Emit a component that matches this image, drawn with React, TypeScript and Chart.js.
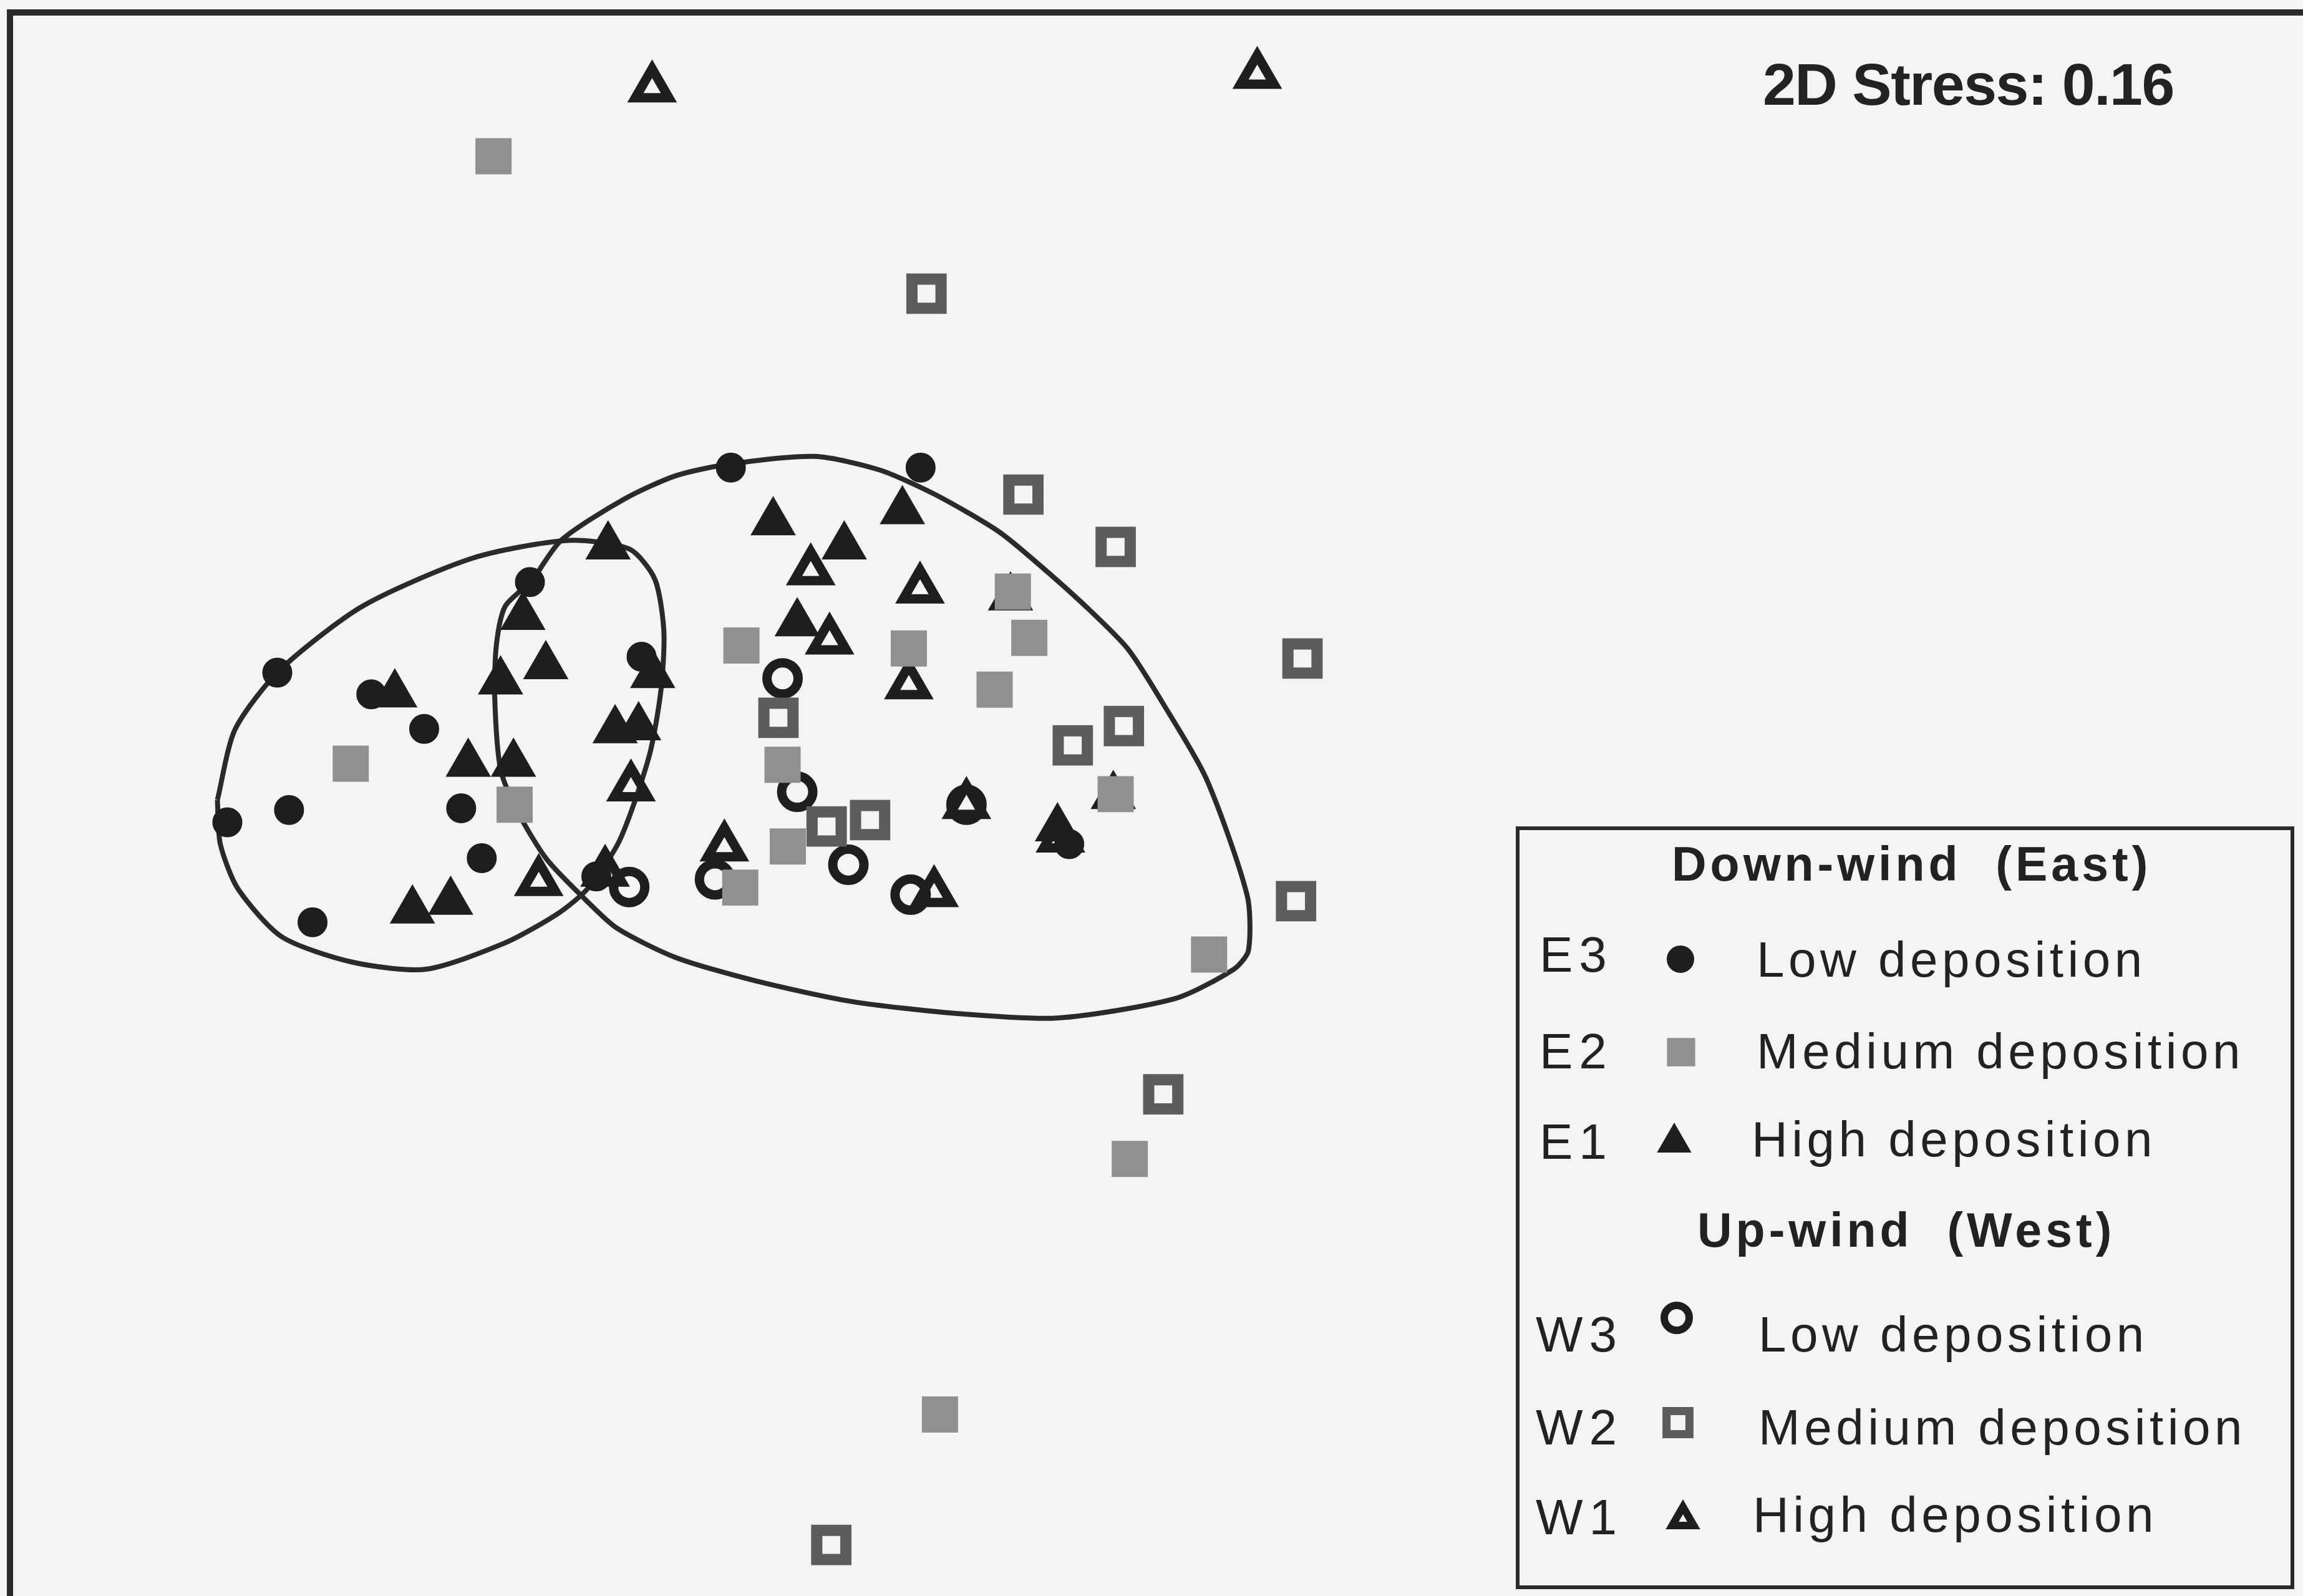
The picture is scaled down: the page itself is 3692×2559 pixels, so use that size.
import React, { useEffect, useRef } from 'react';
import { Chart, registerables } from 'chart.js';

Chart.register(...registerables);

const W = 3692;
const H = 2559;
const X_MIN = -1.75;
const X_MAX = 2.17;
const Y_MIN = -1.217;
const Y_MAX = 1.5;

// NMDS coordinates
const e3Low = [
  [-0.506, 0.704], [-0.183, 0.704], [-1.278, 0.355], [-1.118, 0.318], [-1.028, 0.259],
  [-1.363, 0.1], [-1.258, 0.121], [-1.218, -0.07], [-0.965, 0.124], [-0.93, 0.039],
  [-0.848, 0.509], [-0.658, 0.382], [-0.735, 0.008], [0.07, 0.063],
];
const e2Medium = [
  [-0.91, 1.234], [-1.153, 0.2], [-0.874, 0.13], [-0.488, 0.401], [-0.203, 0.396],
  [-0.026, 0.493], [0.002, 0.414], [-0.057, 0.326], [-0.418, 0.198], [-0.409, 0.059],
  [-0.49, -0.011], [0.149, 0.148], [0.308, -0.125], [0.173, -0.473], [-0.15, -0.908],
];
const e1High = [
  [-0.434, 0.611], [-0.214, 0.63], [-0.313, 0.57], [-0.715, 0.57], [-0.86, 0.45],
  [-0.821, 0.366], [-0.898, 0.34], [-0.393, 0.439], [-1.078, 0.318], [-0.953, 0.2],
  [-0.876, 0.2], [-0.703, 0.257], [-0.663, 0.262], [-0.639, 0.351], [-1.048, -0.05],
  [-0.983, -0.035], [0.05, 0.09], [-0.03, 0.483], [0.145, 0.145],
];
const w3Low = [
  [-0.418, 0.345], [-0.393, 0.152], [-0.306, 0.028], [-0.533, 0.003], [-0.679, -0.01],
  [-0.2, -0.023], [-0.105, 0.13],
];
const w2Medium = [
  [-0.173, 1.0], [-0.008, 0.658], [0.149, 0.569], [0.467, 0.379], [0.163, 0.264],
  [0.076, 0.231], [-0.425, 0.278], [-0.343, 0.093], [-0.269, 0.104], [0.456, -0.034],
  [0.23, -0.363], [-0.335, -1.13],
];
const w1High = [
  [-0.64, 1.35], [0.39, 1.373], [-0.37, 0.528], [-0.184, 0.497], [-0.338, 0.41],
  [-0.203, 0.334], [-0.676, 0.16], [-0.833, -0.001], [-0.72, 0.015], [-0.517, 0.058],
  [-0.105, 0.13], [-0.16, -0.02], [0.055, 0.073],
];

// Group outlines
const hullEast = [
  [-1.38, 0.138], [-1.35, 0.258], [-1.275, 0.358], [-1.133, 0.468], [-0.945, 0.55],
  [-0.783, 0.58], [-0.678, 0.565], [-0.635, 0.513], [-0.62, 0.425], [-0.625, 0.325],
  [-0.645, 0.213], [-0.695, 0.07], [-0.75, -0.013], [-0.8, -0.055], [-0.89, -0.105],
  [-1.025, -0.15], [-1.15, -0.138], [-1.27, -0.095], [-1.345, -0.013], [-1.375, 0.063],
  [-1.38, 0.138],
];
const hullWest = [
  [-0.845, 0.51], [-0.795, 0.58], [-0.688, 0.65], [-0.6, 0.69], [-0.508, 0.71],
  [-0.363, 0.723], [-0.253, 0.7], [-0.158, 0.658], [-0.05, 0.595], [0.023, 0.535],
  [0.103, 0.463], [0.17, 0.395], [0.228, 0.305], [0.303, 0.175], [0.373, -0.025],
  [0.375, -0.118], [0.35, -0.15], [0.25, -0.2], [0.05, -0.233], [-0.125, -0.225],
  [-0.3, -0.205], [-0.463, -0.17], [-0.6, -0.13], [-0.7, -0.08], [-0.755, -0.03],
  [-0.82, 0.038], [-0.87, 0.12], [-0.898, 0.19], [-0.908, 0.315], [-0.905, 0.403],
  [-0.89, 0.468], [-0.845, 0.51],
];

const stressLabel = '2D Stress: 0.16';
const legendHeaders = ['Down-wind  (East)', 'Up-wind  (West)'];
const legendCodes = ['E3', 'E2', 'E1', 'W3', 'W2', 'W1'];
const legendDescriptions = [
  'Low deposition', 'Medium deposition', 'High deposition',
  'Low deposition', 'Medium deposition', 'High deposition',
];

const INK = '#1e1e1e';
const GRAY_FILL = '#909090';
const GRAY_LINE = '#5c5c5c';
const BG = '#f4f4f4';
const CLEAR = 'rgba(0,0,0,0)';

const toXY = (arr: number[][]) => arr.map(([x, y]) => ({ x, y }));

type MarkerStyle = { shape: string; r: number; fill: string; stroke: string; lw: number };
const legendMarkers: MarkerStyle[] = [
  { shape: 'circle', r: 21, fill: INK, stroke: INK, lw: 2 },
  { shape: 'rect', r: 32, fill: GRAY_FILL, stroke: GRAY_FILL, lw: 0 },
  { shape: 'triangle', r: 30, fill: INK, stroke: INK, lw: 2 },
  { shape: 'circle', r: 20, fill: CLEAR, stroke: INK, lw: 12 },
  { shape: 'rect', r: 26, fill: CLEAR, stroke: GRAY_LINE, lw: 13 },
  { shape: 'triangle', r: 20, fill: CLEAR, stroke: INK, lw: 12 },
];

function shapePath(ctx: CanvasRenderingContext2D, shape: string, x: number, y: number, r: number) {
  ctx.beginPath();
  if (shape === 'circle') {
    ctx.arc(x, y, r, 0, Math.PI * 2);
  } else if (shape === 'rect') {
    const s = r * Math.SQRT1_2;
    ctx.rect(x - s, y - s, 2 * s, 2 * s);
  } else {
    for (let k = 0; k < 3; k++) {
      const a = (k * 2 * Math.PI) / 3;
      const px = x + Math.sin(a) * r;
      const py = y - Math.cos(a) * r;
      if (k === 0) ctx.moveTo(px, py);
      else ctx.lineTo(px, py);
    }
    ctx.closePath();
  }
}

const decorPlugin = {
  id: 'decor',
  beforeDraw(chart: any) {
    const ctx: CanvasRenderingContext2D = chart.ctx;
    ctx.save();
    ctx.fillStyle = BG;
    ctx.fillRect(0, 0, chart.width, chart.height);
    ctx.restore();
  },
  afterDraw(chart: any) {
    const ctx: any = chart.ctx;
    ctx.save();
    // outer frame (right/bottom sides fall outside the picture)
    ctx.strokeStyle = '#2a2a2a';
    ctx.lineWidth = 10;
    ctx.strokeRect(16, 20, W + 40, H + 40);

    // stress label
    ctx.fillStyle = '#222';
    ctx.textBaseline = 'alphabetic';
    ctx.textAlign = 'left';
    ctx.font = 'bold 95px "Liberation Sans", Arial, sans-serif';
    ctx.letterSpacing = '-1.5px';
    ctx.fillText(stressLabel, 2826, 168);

    // legend box
    ctx.fillStyle = BG;
    ctx.fillRect(2433, 1328, 3675 - 2433, 2545 - 1328);
    ctx.strokeStyle = '#2a2a2a';
    ctx.lineWidth = 6;
    ctx.strokeRect(2433, 1328, 3675 - 2433, 2545 - 1328);

    ctx.fillStyle = '#222';
    ctx.letterSpacing = '6px';
    ctx.font = 'bold 77px "Liberation Sans", Arial, sans-serif';
    ctx.fillText(legendHeaders[0], 2680, 1412);
    ctx.fillText(legendHeaders[1], 2721, 1999);

    const codeBase = [1558, 1713, 1858, 2167, 2316, 2460];
    const descBase = [1566, 1713, 1854, 2167, 2316, 2456];
    const codeX = [2468, 2468, 2468, 2462, 2462, 2462];
    const descX = [2816, 2816, 2808, 2819, 2819, 2810];
    const markerPos = [
      [2694, 1538], [2695, 1687], [2684, 1832], [2688, 2113], [2690, 2281], [2698, 2436],
    ];
    ctx.font = '80px "Liberation Sans", Arial, sans-serif';
    ctx.letterSpacing = '10px';
    legendCodes.forEach((c, i) => {
      ctx.fillStyle = '#222';
      ctx.fillText(c, codeX[i], codeBase[i]);
    });
    ctx.letterSpacing = '6.5px';
    legendDescriptions.forEach((d, i) => {
      ctx.fillStyle = '#222';
      ctx.fillText(d, descX[i], descBase[i]);
    });
    ctx.letterSpacing = '0px';
    legendMarkers.forEach((m, i) => {
      const [mx, my] = markerPos[i];
      shapePath(ctx, m.shape, mx, my, m.r);
      if (m.fill !== CLEAR) {
        ctx.fillStyle = m.fill;
        ctx.fill();
      }
      if (m.lw > 0) {
        ctx.strokeStyle = m.stroke;
        ctx.lineWidth = m.lw;
        ctx.lineJoin = 'miter';
        ctx.stroke();
      }
    });
    ctx.restore();
  },
};

export default function App() {
  const canvasRef = useRef<HTMLCanvasElement | null>(null);

  useEffect(() => {
    const canvas = canvasRef.current;
    if (!canvas) return;
    const hullStyle = {
      showLine: true,
      pointRadius: 0,
      pointHoverRadius: 0,
      borderColor: '#2a2a2a',
      borderWidth: 8,
      backgroundColor: CLEAR,
      fill: false,
      tension: 0.25,
    };
    const chart = new Chart(canvas, {
      type: 'scatter',
      data: {
        datasets: [
          {
            label: 'W2 Medium deposition',
            data: toXY(w2Medium),
            pointStyle: 'rect',
            pointRadius: 33,
            backgroundColor: CLEAR,
            borderColor: GRAY_LINE,
            borderWidth: 18,
          },
          {
            label: 'E2 Medium deposition',
            data: toXY(e2Medium),
            pointStyle: 'rect',
            pointRadius: 41,
            backgroundColor: GRAY_FILL,
            borderColor: GRAY_FILL,
            borderWidth: 0,
          },
          {
            label: 'W3 Low deposition',
            data: toXY(w3Low),
            pointStyle: 'circle',
            pointRadius: 25,
            backgroundColor: CLEAR,
            borderColor: INK,
            borderWidth: 15,
          },
          {
            label: 'W1 High deposition',
            data: toXY(w1High),
            pointStyle: 'triangle',
            pointRadius: 31,
            backgroundColor: CLEAR,
            borderColor: INK,
            borderWidth: 15,
          },
          {
            label: 'E1 High deposition',
            data: toXY(e1High),
            pointStyle: 'triangle',
            pointRadius: 40,
            backgroundColor: INK,
            borderColor: INK,
            borderWidth: 2,
          },
          {
            label: 'E3 Low deposition',
            data: toXY(e3Low),
            pointStyle: 'circle',
            pointRadius: 23,
            backgroundColor: INK,
            borderColor: INK,
            borderWidth: 2,
          },
          { label: 'East group', data: toXY(hullEast), ...hullStyle },
          { label: 'West group', data: toXY(hullWest), ...hullStyle },
        ] as any,
      },
      options: {
        responsive: false,
        animation: false,
        devicePixelRatio: 1,
        layout: { padding: 0, autoPadding: false },
        events: [],
        plugins: {
          legend: { display: false },
          tooltip: { enabled: false },
          title: { display: false },
        },
        scales: {
          x: { type: 'linear', min: X_MIN, max: X_MAX, display: false },
          y: { type: 'linear', min: Y_MIN, max: Y_MAX, display: false },
        },
      } as any,
      plugins: [decorPlugin],
    });
    return () => chart.destroy();
  }, []);

  return (
    <div style={{ position: 'absolute', left: 0, top: 0, width: W, height: H, overflow: 'hidden' }}>
      <canvas ref={canvasRef} width={W} height={H} style={{ display: 'block', width: W, height: H }} />
    </div>
  );
}
